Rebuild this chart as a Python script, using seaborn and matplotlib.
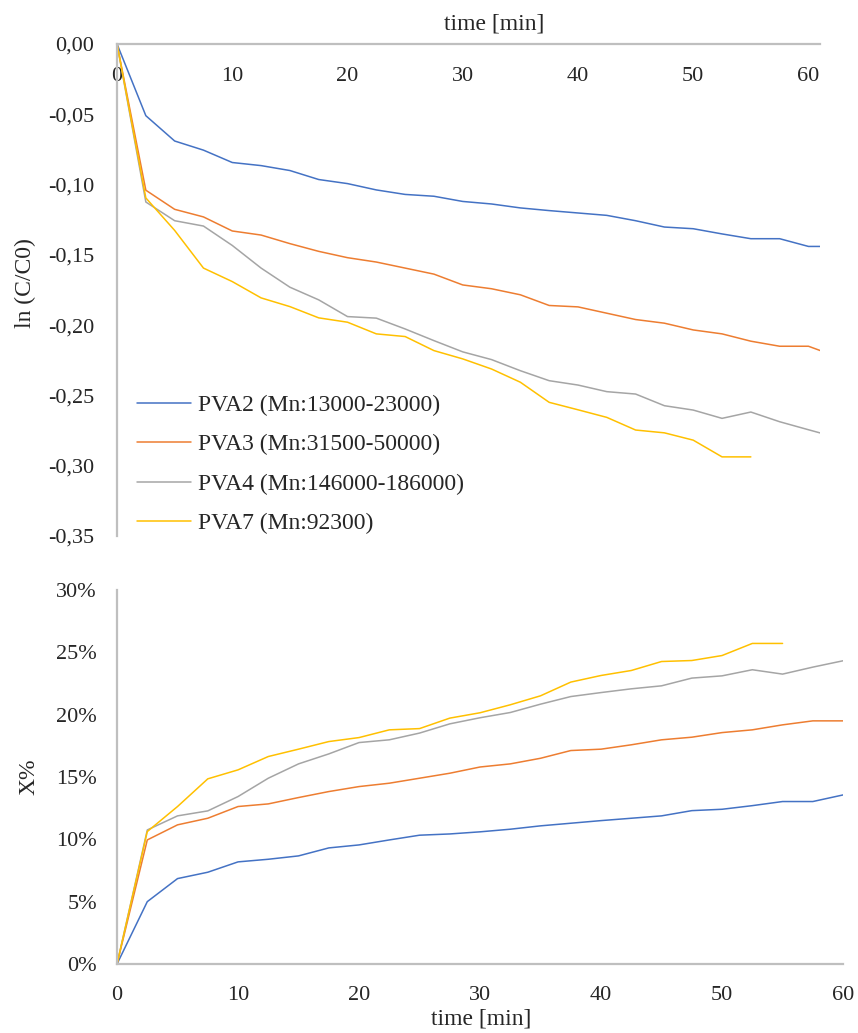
import matplotlib
matplotlib.use('Agg')
import matplotlib.pyplot as plt
import seaborn as sns
import pandas as pd
from matplotlib.ticker import FuncFormatter

# time axis [min]
t_top = [0, 2.5, 5, 7.5, 10, 12.5, 15, 17.5, 20, 22.5, 25, 27.5, 30, 32.5, 35,
         37.5, 40, 42.5, 45, 47.5, 50, 52.5, 55, 57.5, 60, 62.5]
t_bot = [0, 2.5, 5, 7.5, 10, 12.5, 15, 17.5, 20, 22.5, 25, 27.5, 30, 32.5, 35,
         37.5, 40, 42.5, 45, 47.5, 50, 52.5, 55, 57.5, 60]

names = ['PVA2 (Mn:13000-23000)', 'PVA3 (Mn:31500-50000)',
         'PVA4 (Mn:146000-186000)', 'PVA7 (Mn:92300)']
colors = ['#4472C4', '#ED7D31', '#A5A5A5', '#FFC000']

# ln(C/C0)
ln_pva2 = [0, -0.051, -0.069, -0.0755, -0.0843, -0.0865, -0.090, -0.0964, -0.0993,
           -0.1038, -0.107, -0.1083, -0.112, -0.1138, -0.1166, -0.1185, -0.1202,
           -0.1219, -0.1257, -0.1302, -0.1314, -0.1351, -0.1385, -0.1385, -0.144, -0.144]
ln_pva3 = [0, -0.104, -0.1176, -0.123, -0.133, -0.1359, -0.142, -0.1475, -0.152,
           -0.1551, -0.1594, -0.1637, -0.1714, -0.1741, -0.1784, -0.186, -0.187,
           -0.1915, -0.196, -0.1986, -0.2034, -0.2062, -0.2114, -0.215, -0.215, -0.2225]
ln_pva4 = [0, -0.1124, -0.1257, -0.1295, -0.1433, -0.1594, -0.173, -0.182, -0.1939,
           -0.195, -0.2027, -0.211, -0.219, -0.2245, -0.2324, -0.2395, -0.2426,
           -0.2473, -0.249, -0.2573, -0.2604, -0.2663, -0.2618, -0.2687, -0.2744, -0.280]
ln_pva7 = [0, -0.1095, -0.1326, -0.1594, -0.169, -0.1806, -0.1868, -0.1948, -0.1979,
           -0.2062, -0.2081, -0.2181, -0.224, -0.2312, -0.2406, -0.2549, -0.2602,
           -0.2656, -0.2746, -0.2766, -0.2818, -0.2937, -0.2937]

# conversion X [%]
x_pva2 = [0, 5.0, 6.85, 7.36, 8.19, 8.4, 8.67, 9.31, 9.55, 9.95, 10.33, 10.43, 10.6,
          10.81, 11.08, 11.29, 11.5, 11.69, 11.88, 12.3, 12.41, 12.7, 13.03, 13.03, 13.56]
x_pva3 = [0, 9.95, 11.16, 11.69, 12.63, 12.84, 13.35, 13.83, 14.23, 14.5, 14.9, 15.3,
          15.8, 16.05, 16.5, 17.12, 17.23, 17.58, 17.98, 18.19, 18.56, 18.78, 19.18,
          19.5, 19.5]
x_pva4 = [0, 10.75, 11.88, 12.28, 13.43, 14.9, 16.05, 16.85, 17.76, 17.98, 18.52,
          19.26, 19.75, 20.17, 20.84, 21.45, 21.77, 22.07, 22.31, 22.93, 23.11, 23.6,
          23.25, 23.81, 24.32]
x_pva7 = [0, 10.62, 12.63, 14.85, 15.57, 16.64, 17.23, 17.84, 18.16, 18.78, 18.88,
          19.72, 20.15, 20.79, 21.51, 22.61, 23.14, 23.54, 24.26, 24.34, 24.74, 25.71,
          25.71]


def to_long(times, series):
    frames = []
    for name, vals in zip(names, series):
        frames.append(pd.DataFrame({'time': times[:len(vals)], 'value': vals, 'series': name}))
    return pd.concat(frames, ignore_index=True)


df_top = to_long(t_top, [ln_pva2, ln_pva3, ln_pva4, ln_pva7])
df_bot = to_long(t_bot, [x_pva2, x_pva3, x_pva4, x_pva7])
palette = dict(zip(names, colors))

sns.set_style('white')
plt.rcParams['font.family'] = ['Liberation Serif', 'DejaVu Serif']
fs = 16
axis_col = '#BFBFBF'

fig = plt.figure(figsize=(8.58, 10.33), dpi=100)
ax1 = fig.add_axes([0.1364, 0.4811, 0.8193, 0.4763])
ax2 = fig.add_axes([0.1364, 0.0668, 0.8462, 0.3621])

sns.lineplot(data=df_top, x='time', y='value', hue='series', palette=palette,
             linewidth=1.1, errorbar=None, ax=ax1)
sns.lineplot(data=df_bot, x='time', y='value', hue='series', palette=palette,
             linewidth=1.1, errorbar=None, legend=False, ax=ax2)

# top panel: x axis sits on y=0 at the top
ax1.set_xlim(0, 61)
ax1.set_ylim(-0.35, 0)
ax1.set_xticks([0, 10, 20, 30, 40, 50, 60])
ax1.set_yticks([0, -0.05, -0.10, -0.15, -0.20, -0.25, -0.30, -0.35])
ax1.yaxis.set_major_formatter(FuncFormatter(lambda v, p: f'{v:.2f}'.replace('.', ',')))
for s in ['right', 'bottom']:
    ax1.spines[s].set_visible(False)
for s in ['top', 'left']:
    ax1.spines[s].set_color(axis_col)
    ax1.spines[s].set_linewidth(1.6)
ax1.tick_params(axis='x', bottom=False, top=False, labelbottom=False, labeltop=True,
                pad=-33.5, labelsize=fs)
ax1.tick_params(axis='y', left=False, pad=13, labelsize=fs)
ax1.set_xlabel('')
ax1.set_ylabel('')

handles, labels = ax1.get_legend_handles_labels()
ax1.legend(handles, labels, loc='upper left', bbox_to_anchor=(0.028, 0.288),
           frameon=False, fontsize=17, borderpad=0, borderaxespad=0,
           handlelength=2.3, handletextpad=0.3, labelspacing=0.76)

# bottom panel
ax2.set_xlim(0, 60)
ax2.set_ylim(0, 30)
ax2.set_xticks([0, 10, 20, 30, 40, 50, 60])
ax2.set_yticks([0, 5, 10, 15, 20, 25, 30])
ax2.yaxis.set_major_formatter(FuncFormatter(lambda v, p: f'{v:.0f}%'))
for s in ['right', 'top']:
    ax2.spines[s].set_visible(False)
for s in ['bottom', 'left']:
    ax2.spines[s].set_color(axis_col)
    ax2.spines[s].set_linewidth(1.6)
ax2.tick_params(axis='x', bottom=False, pad=12, labelsize=fs)
ax2.tick_params(axis='y', left=False, pad=11, labelsize=fs)
ax2.set_xlabel('')
ax2.set_ylabel('')

fig.text(494 / 858, 1 - 24 / 1033, 'time [min]', fontsize=17, ha='center', va='center')
fig.text(481 / 858, 1 - 1019 / 1033, 'time [min]', fontsize=17, ha='center', va='center')
fig.text(25 / 858, 1 - 283 / 1033, 'ln (C/C0)', fontsize=17, rotation=90,
         ha='center', va='center')
fig.text(29 / 858, 1 - 777 / 1033, 'X%', fontsize=17, rotation=90,
         ha='center', va='center')

fig.savefig('out.png', dpi=100)
